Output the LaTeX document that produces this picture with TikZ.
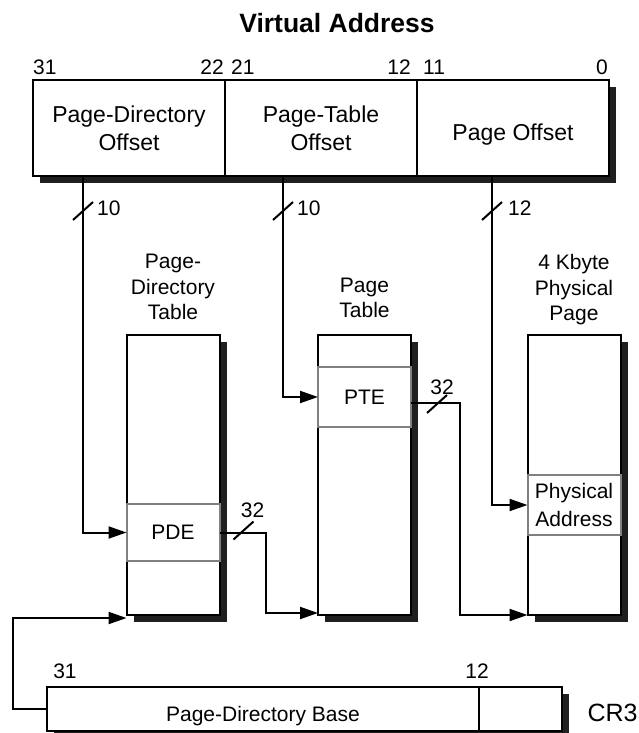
\documentclass[tikz,border=0pt]{standalone}
\usepackage{fontspec}
\setmainfont{Liberation Sans}
\usetikzlibrary{arrows.meta,calc,positioning,shadows}

\begin{document}
\begin{tikzpicture}[x=1pt, y=-1pt,
        hardshadow/.style={drop shadow={shadow xshift=7pt, shadow yshift=-7pt, fill=black!88, opacity=1}},
        field/.style={
            draw,
            line width=2pt,
            fill=white,
            outer sep=0pt,
            align=center,
            minimum width=192pt,
            minimum height=96pt,
            font=\fontsize{23}{28}\selectfont,
            hardshadow
        },
        regbox/.style={draw, line width=2pt, fill=white, outer sep=0pt, minimum height=44pt,
            font=\fontsize{21}{25}\selectfont, hardshadow},
        tablebox/.style={draw, line width=2pt, fill=white, outer sep=0pt, minimum width=93pt,
            minimum height=280pt, hardshadow},
        entry/.style={draw=black!50, line width=2pt, fill=white, outer sep=0pt, minimum width=93pt,
            align=center, font=\fontsize{21}{28}\selectfont},
        tlabel/.style={align=center, font=\fontsize{21}{25.5}\selectfont},
        bitnum/.style={inner sep=1pt, font=\fontsize{21}{24}\selectfont},
        link/.style={line width=2pt, -{Triangle[length=18pt, width=12pt]}},
        slash/.style={line width=2pt}
    ]
        \useasboundingbox (0,0) rectangle (639,733);

        \node[font=\bfseries\fontsize{26.5}{30}\selectfont] (vatitle) at (337,23) {Virtual Address};

        % virtual address fields
        \node[field] (pdo) at (129,128) {Page-Directory\\Offset};
        \node[field, right=0pt of pdo] (pto) {Page-Table\\Offset};
        \node[field, right=0pt of pto, text height=24pt, text depth=0pt] (po) {Page Offset};

        \node[bitnum, anchor=south west] (b31) at ($(pdo.north west)+(-1,-4.5)$) {31};
        \node[bitnum, anchor=south east] (b22) at ($(pdo.north east)+(0,-4.5)$) {22};
        \node[bitnum, anchor=south west] (b21) at ($(pto.north west)+(5,-4.5)$) {21};
        \node[bitnum, anchor=south east] (b12) at ($(pto.north east)+(-5,-4.5)$) {12};
        \node[bitnum, anchor=south west] (b11) at ($(po.north west)+(5,-4.5)$) {11};
        \node[bitnum, anchor=south east] (b0)  at ($(po.north east)+(0,-4.5)$) {0};

        % tables
        \node[tablebox] (pdt) at (173,475) {};
        \node[tablebox] (pt)  at (364.5,475) {};
        \node[tablebox] (pp)  at (574,475) {};

        \node[tlabel] (pdtlbl) at ($(pdt.north)+(0,-48)$) {Page-\\Directory\\Table};
        \node[tlabel] (ptlbl)  at ($(pt.north)+(0,-37)$) {Page\\Table};
        \node[tlabel] (pplbl)  at ($(pp.north)+(0,-45)$) {4 Kbyte\\Physical\\Page};

        \node[entry, minimum height=57pt] (pde)  at (173,532.5) {PDE};
        \node[entry, minimum height=60pt] (pte)  at (364.5,397) {PTE};
        \node[entry, minimum height=60pt] (phys) at (574,505) {Physical\\Address};

        % CR3
        \node[regbox, minimum width=432pt, text height=25pt, text depth=0pt] (pdb) at (263,709) {Page-Directory Base};
        \node[regbox, minimum width=83pt, right=0pt of pdb] (cr3low) {};
        \node[bitnum, anchor=south] (c31) at ($(pdb.north west)+(18,-7.5)$) {31};
        \node[bitnum, anchor=south] (c12) at ($(cr3low.north west)+(-2,-7.5)$) {12};
        \node[font=\fontsize{25}{28}\selectfont, anchor=west] (cr3) at ($(cr3low.east)+(22,4)$) {CR3};

        % offsets into the tables
        \coordinate (pdtap) at ($(pdo.south west)+(50,0)$);
        \coordinate (pttap) at ($(pto.south west)+(58,0)$);
        \coordinate (potap) at ($(po.south west)+(75,0)$);

        \draw[link] (pdtap) |- (pde.west);
        \draw[link] (pttap) |- (pte.west);
        \draw[link] (potap) |- (phys.west);

        \draw[slash] ($(pdtap)+(-10,44)$) -- ++(20,-18);
        \draw[slash] ($(pttap)+(-10,44)$) -- ++(20,-18);
        \draw[slash] ($(potap)+(-10,44)$) -- ++(20,-18);
        \node[bitnum, anchor=west] (w1) at ($(pdtap)+(13,32)$) {10};
        \node[bitnum, anchor=west] (w2) at ($(pttap)+(13,32)$) {10};
        \node[bitnum, anchor=west] (w3) at ($(potap)+(15,32)$) {12};

        % entries to next level
        \draw[link] (pde.east) -- ++(46,0) |- ($(pt.south west)+(0,-2)$);
        \draw[slash] ($(pde.east)+(14,7)$) -- ++(20,-18);
        \node[bitnum] (w4) at ($(pde.east)+(33,-22.5)$) {32};

        \draw[link] ($(pte.east)+(0,6)$) -- ++(49,0) |- (pp.south west);
        \draw[slash] ($(pte.east)+(16,16)$) -- ++(20,-18);
        \node[bitnum] (w5) at ($(pte.east)+(31,-10)$) {32};

        \draw[link] (pdb.west) -- ++(-34,0) |- ($(pdt.south west)+(0,3)$);
\end{tikzpicture}
\end{document}
